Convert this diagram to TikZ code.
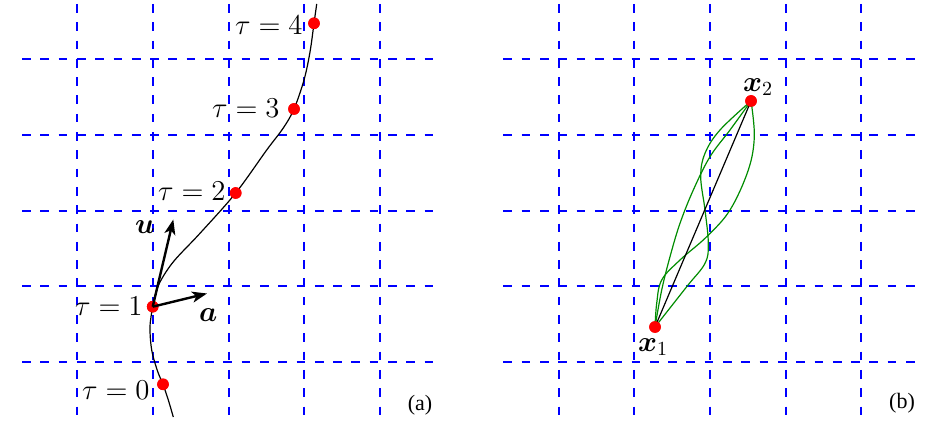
\documentclass[tikz,border=0pt]{standalone}
\usepackage{amsmath}
\usepackage{fontspec}
\newfontfamily\timesfont{Liberation Serif}
\usetikzlibrary{arrows.meta}
\definecolor{gridblue}{RGB}{0,0,255}
\definecolor{altgreen}{RGB}{0,140,0}
\begin{document}
\begin{tikzpicture}[x=0.5pt,y=-0.5pt,
  gridline/.style={draw=gridblue, line width=1pt, dash pattern=on 4.35pt off 4.8pt},
  dot/.style={circle, fill=red, inner sep=0pt, minimum size=5.8pt},
  lbl/.style={inner sep=0pt, font=\fontsize{14}{16}\selectfont},
  tag/.style={inner sep=0pt, font=\timesfont\fontsize{11}{13}\selectfont},
  vec/.style={line width=1.2pt, -{Stealth[length=7.5pt, width=5.5pt, inset=2pt]}},
  trajline/.style={draw=black, line width=0.6pt},
  altline/.style={draw=altgreen, line width=0.6pt}]
\useasboundingbox (0,0) rectangle (929,421);
% grids
\foreach \off in {0,481.4}{
  \foreach \k in {0,1,2,3,4}{
    \draw[gridline] ({\off+77.3+75.65*\k},4) -- ({\off+77.3+75.65*\k},417);
    \draw[gridline] ({\off+22},{59.3+75.65*\k}) -- ({\off+435},{59.3+75.65*\k});
  }
}
% panel (a)
\coordinate (top) at (316.7,4);
\coordinate (bot) at (173.3,417);
\node[dot] (t4) at (314,23.3) {};
\node[dot] (t3) at (294,109) {};
\node[dot] (t2) at (235.7,193) {};
\node[dot] (t1) at (152.7,306.7) {};
\node[dot] (t0) at (163,384.3) {};
\draw[trajline] plot[smooth, tension=0.55] coordinates {(top) (t4.center) (310,52) (304,80) (294,109) (283.3,128) (266.7,150) (235.7,193) (200,233.3) (174,261) (160,282) (154.5,298) (t1.center) (150,326.7) (151.7,350) (157.5,371) (t0.center) (168.3,400) (bot)};
\node[dot] at (t4) {};
\node[dot] at (t3) {};
\node[dot] at (t2) {};
\node[dot] at (t1) {};
\node[dot] at (t0) {};
\coordinate (utip) at (173.3,219.5);
\coordinate (atip) at (207,293.5);
\draw[vec] (t1.center) -- (utip);
\draw[vec] (t1.center) -- (atip);
\node[lbl] (ul) at (145,227) {$\boldsymbol{u}$};
\node[lbl] (al) at (208.3,315) {$\boldsymbol{a}$};
\node[lbl, anchor=east] (l4) at (303,25) {$\tau=4$};
\node[lbl, anchor=east] (l3) at (280,108.5) {$\tau=3$};
\node[lbl, anchor=east] (l2) at (226,191.5) {$\tau=2$};
\node[lbl, anchor=east] (l1) at (143,306) {$\tau=1$};
\node[lbl, anchor=east] (l0) at (150,390) {$\tau=0$};
\node[tag] (ta) at (420,405) {(a)};
% panel (b)
\node[dot] (x1) at (655,327) {};
\node[dot] (x2) at (751,101) {};
\draw[altline] plot[smooth, tension=0.6] coordinates {(x1.center) (656.7,303.3) (661.7,280) (680,260) (706.7,236.7) (730,210) (748.3,170) (754.3,136.7) (x2.center)};
\draw[altline] plot[smooth, tension=0.6] coordinates {(x1.center) (686.7,286.7) (705,263.3) (708.3,243.3) (705,210) (700.7,176.7) (705,153.3) (720,130) (x2.center)};
\draw[altline] plot[smooth, tension=0.6] coordinates {(x1.center) (661.7,290) (670,256.7) (680,223.3) (693.3,190) (710,156.7) (730,130) (x2.center)};
\draw[trajline] (x1.center) -- (x2.center);
\node[dot] at (x1) {};
\node[dot] at (x2) {};
\node[lbl] (x1l) at (653,347) {$\boldsymbol{x}_1$};
\node[lbl] (x2l) at (758,87) {$\boldsymbol{x}_2$};
\node[tag] (tb) at (902,403) {(b)};
\end{tikzpicture}
\end{document}
